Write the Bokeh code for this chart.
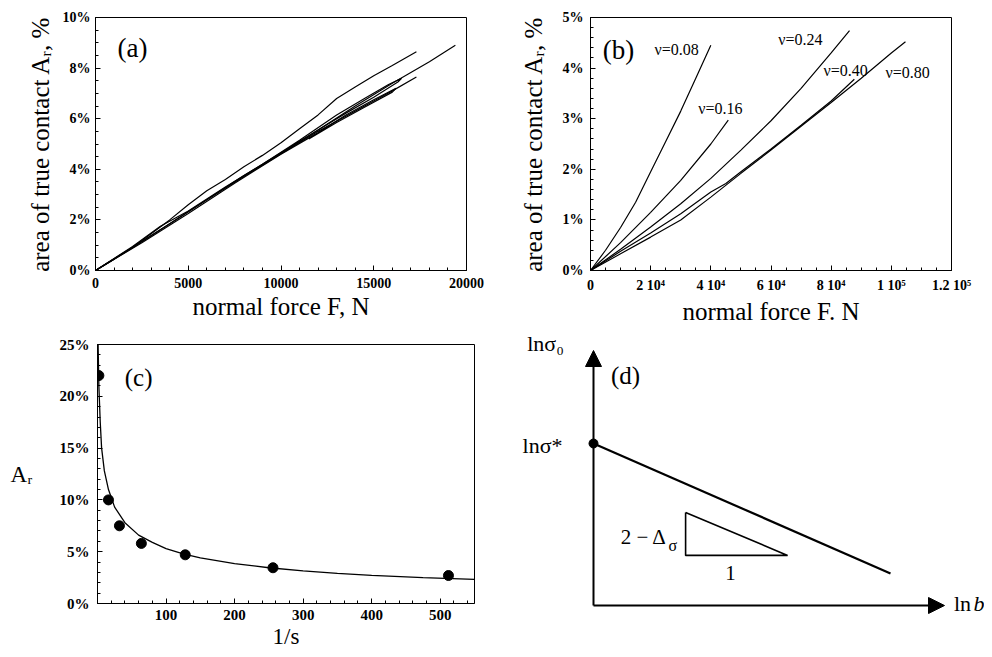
from bokeh.plotting import figure
from bokeh.layouts import column, row
from bokeh.models import Range1d, FixedTicker, PrintfTickFormatter, Arrow, NormalHead
from bokeh.core.properties import value
from bokeh.embed import file_html
from bokeh.resources import INLINE

SERIF = "Liberation Serif"

# ---------------- panel (a) data: normal force (N) vs area of true contact (%)
a1_force = [0, 1000, 2000, 3000, 4000, 5000, 6000, 7000, 8000, 9000, 10000, 11000, 12000, 13000, 14000, 15000, 16000, 17300]
a1_area = [0, 0.45, 0.92, 1.45, 2.0, 2.6, 3.15, 3.6, 4.1, 4.55, 5.05, 5.6, 6.15, 6.8, 7.25, 7.7, 8.1, 8.65]
a2_force = [0, 2000, 4000, 6000, 8000, 10000, 12000, 14000, 16000, 18000, 19400]
a2_area = [0, 0.9, 1.85, 2.8, 3.75, 4.65, 5.55, 6.5, 7.4, 8.25, 8.9]
a3_force = [0, 2000, 4000, 6000, 8000, 10000, 12000, 13000, 14000, 15000, 16000, 17300]
a3_area = [0, 0.92, 1.85, 2.8, 3.72, 4.62, 5.5, 5.9, 6.3, 6.7, 7.1, 7.65]
a4_force = [0, 2000, 3500, 5000, 7000, 9000, 11000, 13000, 14500, 15800, 16500, 16300, 15000, 13500, 12000, 10000]
a4_area = [0, 0.95, 1.75, 2.35, 3.3, 4.2, 5.15, 6.15, 6.8, 7.35, 7.6, 7.45, 6.85, 6.22, 5.55, 4.62]
a5_force = [0, 2500, 5000, 7500, 10000, 12000, 13500, 15000, 16200, 16000, 14500, 13000, 11500]
a5_area = [0, 1.1, 2.25, 3.45, 4.6, 5.45, 6.15, 6.75, 7.2, 7.05, 6.45, 5.85, 5.2]
a_xticks = [0, 5000, 10000, 15000, 20000]
a_yticks = [0, 2, 4, 6, 8, 10]

# ---------------- panel (b) data: curves for several nu values
b08_force = [0, 5000, 10000, 15000, 20000, 25000, 30000, 35000, 40000]
b08_area = [0, 0.4, 0.85, 1.35, 1.95, 2.55, 3.15, 3.8, 4.45]
b16_force = [0, 10000, 20000, 30000, 40000, 45800]
b16_area = [0, 0.55, 1.15, 1.78, 2.5, 2.97]
b24_force = [0, 10000, 20000, 30000, 40000, 50000, 60000, 70000, 80000, 86100]
b24_area = [0, 0.42, 0.86, 1.32, 1.82, 2.38, 2.96, 3.6, 4.3, 4.74]
b40_force = [0, 10000, 20000, 30000, 40000, 45000, 50000, 60000, 70000, 80000, 87700]
b40_area = [0, 0.38, 0.74, 1.12, 1.55, 1.72, 1.95, 2.4, 2.87, 3.35, 3.78]
b80_force = [0, 10000, 20000, 30000, 40000, 50000, 60000, 70000, 80000, 90000, 100000, 104700]
b80_area = [0, 0.33, 0.66, 1.0, 1.45, 1.92, 2.38, 2.85, 3.32, 3.8, 4.3, 4.52]
b_labels = ["ν=0.08", "ν=0.16", "ν=0.24", "ν=0.40", "ν=0.80"]
b_xticks = [0, 20000, 40000, 60000, 80000, 100000, 120000]
b_xtick_labels = ["0", "2 10⁴", "4 10⁴", "6 10⁴", "8 10⁴", "1 10⁵", "1.2 10⁵"]
b_yticks = [0, 1, 2, 3, 4, 5]

# ---------------- panel (c) data
c_inv_s = [2, 16, 32, 64, 128, 256, 512]
c_area = [22.0, 10.0, 7.5, 5.8, 4.7, 3.45, 2.7]
c_fit_inv_s = [0.5, 1, 2, 4, 6, 10, 16, 25, 40, 60, 80, 100, 125, 150, 200, 250, 300, 350, 400, 475, 550]
c_fit_area = [27, 24.5, 21, 17.5, 15, 12.8, 11, 9.3, 7.8, 6.6, 5.9, 5.3, 4.8, 4.4, 3.85, 3.45, 3.15, 2.9, 2.72, 2.5, 2.32]
c_xticks = [100, 200, 300, 400, 500]
c_yticks = [0, 5, 10, 15, 20, 25]

# ---------------- panel (d) schematic (ln b, ln sigma0 arbitrary units)
d_axis_lnb_end = 11.7
d_axis_lns_end = 8.5
d_line_lnb = [0, 9.9]
d_line_lns = [5.4, 1.07]
d_tri_lnb = [3.07, 3.07, 6.47, 3.07]
d_tri_lns = [3.1, 1.67, 1.67, 3.1]


def style_axis(ax, tick_size):
    ax.major_tick_in = 5
    ax.major_tick_out = 0
    ax.minor_tick_in = 3
    ax.minor_tick_out = 0
    ax.axis_line_color = "black"
    ax.major_tick_line_color = "black"
    ax.minor_tick_line_color = "black"
    ax.major_label_text_font = SERIF
    ax.major_label_text_font_size = tick_size
    ax.major_label_text_font_style = "bold"
    ax.major_label_text_color = "black"
    ax.axis_label_text_font = SERIF
    ax.axis_label_text_font_style = "normal"
    ax.axis_label_text_font_size = "25px"
    ax.axis_label_text_color = "black"


def style(p, tick_size="14px"):
    p.xgrid.visible = False
    p.ygrid.visible = False
    p.outline_line_color = "black"
    p.outline_line_width = 1
    p.background_fill_color = "white"
    p.border_fill_color = "white"
    for ax in (p.xaxis[0], p.yaxis[0]):
        style_axis(ax, tick_size)


def minor_list(lo, hi, step):
    out = []
    v = lo
    while v <= hi + 1e-9:
        out.append(round(v, 6))
        v += step
    return out

TOP_H = 328
BOT_H = 328

# ---------- (a)
pa = figure(width=498, height=TOP_H, x_range=Range1d(0, 20000), y_range=Range1d(0, 10),
            output_backend="svg", toolbar_location=None,
            min_border_left=95, min_border_right=32, min_border_top=17, min_border_bottom=TOP_H - 272)
style(pa)
pa.xaxis.ticker = FixedTicker(ticks=a_xticks, minor_ticks=minor_list(0, 20000, 1000))
pa.yaxis.ticker = FixedTicker(ticks=a_yticks, minor_ticks=minor_list(0, 10, 0.5))
pa.xaxis.formatter = PrintfTickFormatter(format="%d")
pa.yaxis.formatter = PrintfTickFormatter(format="%d%%")
pa.xaxis.axis_label = "normal force F, N"
pa.yaxis.axis_label = "area of true contact Aᵣ, %"
pa.xaxis.major_label_standoff = 7
pa.xaxis.axis_label_standoff = 2
pa.yaxis.major_label_standoff = 5
pa.yaxis.axis_label_standoff = 6
for xs, ys in [(a1_force, a1_area), (a2_force, a2_area), (a3_force, a3_area),
               (a4_force, a4_area), (a5_force, a5_area)]:
    pa.line(xs, ys, line_color="black", line_width=1.2)
pa.text(x=[2000], y=[8.8], text=["(a)"], text_font=value(SERIF), text_font_size="27px",
        text_align="center", text_baseline="middle", text_color="black")

# ---------- (b)
pb = figure(width=486, height=TOP_H, x_range=Range1d(0, 120000), y_range=Range1d(0, 5),
            output_backend="svg", toolbar_location=None,
            min_border_left=92, min_border_right=33, min_border_top=15, min_border_bottom=TOP_H - 270)
style(pb)
pb.xaxis.ticker = FixedTicker(ticks=b_xticks, minor_ticks=minor_list(0, 120000, 5000))
pb.yaxis.ticker = FixedTicker(ticks=b_yticks, minor_ticks=minor_list(0, 5, 0.2))
pb.xaxis.major_label_overrides = {t: l for t, l in zip(b_xticks, b_xtick_labels)}
pb.yaxis.formatter = PrintfTickFormatter(format="%d%%")
pb.xaxis.axis_label = "normal force F. N"
pb.yaxis.axis_label = "area of true contact Aᵣ, %"
pb.xaxis.major_label_standoff = 7
pb.xaxis.axis_label_standoff = 2
pb.yaxis.major_label_standoff = 7
pb.yaxis.axis_label_standoff = 13
for xs, ys in [(b08_force, b08_area), (b16_force, b16_area), (b24_force, b24_area),
               (b40_force, b40_area), (b80_force, b80_area)]:
    pb.line(xs, ys, line_color="black", line_width=1.2)
pb.text(x=[9300], y=[4.35], text=["(b)"], text_font=value(SERIF), text_font_size="27px",
        text_align="center", text_baseline="middle", text_color="black")
pb.text(x=[28600, 43200, 69800, 84800, 105400], y=[4.37, 3.2, 4.57, 3.96, 3.92], text=b_labels,
        text_font=value(SERIF), text_font_size="16px", text_align="center",
        text_baseline="middle", text_color="black")

# ---------- (c)
pc = figure(width=498, height=BOT_H, x_range=Range1d(0, 550), y_range=Range1d(0, 25),
            output_backend="svg", toolbar_location=None,
            min_border_left=97, min_border_right=24, min_border_top=344 - TOP_H,
            min_border_bottom=BOT_H - (344 - TOP_H) - 259)
style(pc, tick_size="15px")
pc.xaxis.ticker = FixedTicker(ticks=c_xticks, minor_ticks=minor_list(0, 550, 20))
pc.yaxis.ticker = FixedTicker(ticks=c_yticks, minor_ticks=minor_list(0, 25, 1))
pc.yaxis.formatter = PrintfTickFormatter(format="%d%%")
pc.xaxis.axis_label = "1/s"
pc.yaxis.axis_label = "Aᵣ"
pc.xaxis.axis_label_text_font_size = "23px"
pc.yaxis.axis_label_text_font_size = "23px"
pc.xaxis.major_label_standoff = 6
pc.xaxis.axis_label_standoff = 1
pc.yaxis.major_label_standoff = 8
if hasattr(pc.yaxis[0], "axis_label_orientation"):
    pc.yaxis.axis_label_orientation = "horizontal"
    pc.yaxis.axis_label_standoff = 24
else:
    pc.yaxis.axis_label_standoff = 30
pc.line(c_fit_inv_s, c_fit_area, line_color="black", line_width=1.3)
pc.scatter(c_inv_s, c_area, size=10, marker="circle", fill_color="black", line_color="black")
pc.text(x=[60], y=[21.8], text=["(c)"], text_font=value(SERIF), text_font_size="25px",
        text_align="center", text_baseline="middle", text_color="black")

# ---------- (d) schematic
pd_ = figure(width=486, height=BOT_H, x_range=Range1d(-3.1667, 13.0333),
             y_range=Range1d((605 - TOP_H - BOT_H) / 30.0, (605 - TOP_H) / 30.0),
             output_backend="svg", toolbar_location=None, x_axis_type=None, y_axis_type=None,
             min_border_left=0, min_border_right=0, min_border_top=0, min_border_bottom=0)
pd_.xgrid.visible = False
pd_.ygrid.visible = False
pd_.outline_line_color = None
pd_.add_layout(Arrow(end=NormalHead(size=16, fill_color="black", line_color="black"),
                     x_start=0, y_start=0, x_end=0, y_end=d_axis_lns_end,
                     line_color="black", line_width=2))
pd_.add_layout(Arrow(end=NormalHead(size=16, fill_color="black", line_color="black"),
                     x_start=0, y_start=0, x_end=d_axis_lnb_end, y_end=0,
                     line_color="black", line_width=2))
pd_.line(d_line_lnb, d_line_lns, line_color="black", line_width=2.2)
pd_.line(d_tri_lnb, d_tri_lns, line_color="black", line_width=1.6)
pd_.scatter([d_line_lnb[0]], [d_line_lns[0]], size=9, marker="circle", fill_color="black", line_color="black")
txt = dict(text_font=value(SERIF), text_color="black", text_baseline="middle")
pd_.text(x=[-1.6], y=[8.75], text=["lnσ₀"], text_font_size="22px", text_align="center", **txt)
pd_.text(x=[1.07], y=[7.67], text=["(d)"], text_font_size="25px", text_align="center", **txt)
pd_.text(x=[-1.7], y=[5.33], text=["lnσ*"], text_font_size="22px", text_align="center", **txt)
pd_.text(x=[2.45], y=[2.27], text=["2 − Δ"], text_font_size="21px", text_align="right", **txt)
pd_.text(x=[2.5], y=[2.0], text=["σ"], text_font_size="16px", text_align="left", **txt)
pd_.text(x=[4.57], y=[1.07], text=["1"], text_font_size="21px", text_align="center", **txt)
pd_.text(x=[12.3], y=[0.07], text=["ln"], text_font_size="22px", text_align="center", **txt)
pd_.text(x=[12.85], y=[0.07], text=["b"], text_font_size="22px", text_align="center",
         text_font_style="italic", text_font=value(SERIF), text_color="black", text_baseline="middle")

layout = column(row(pa, pb), row(pc, column(pd_)))
open("out.html", "w").write(file_html(layout, INLINE))
